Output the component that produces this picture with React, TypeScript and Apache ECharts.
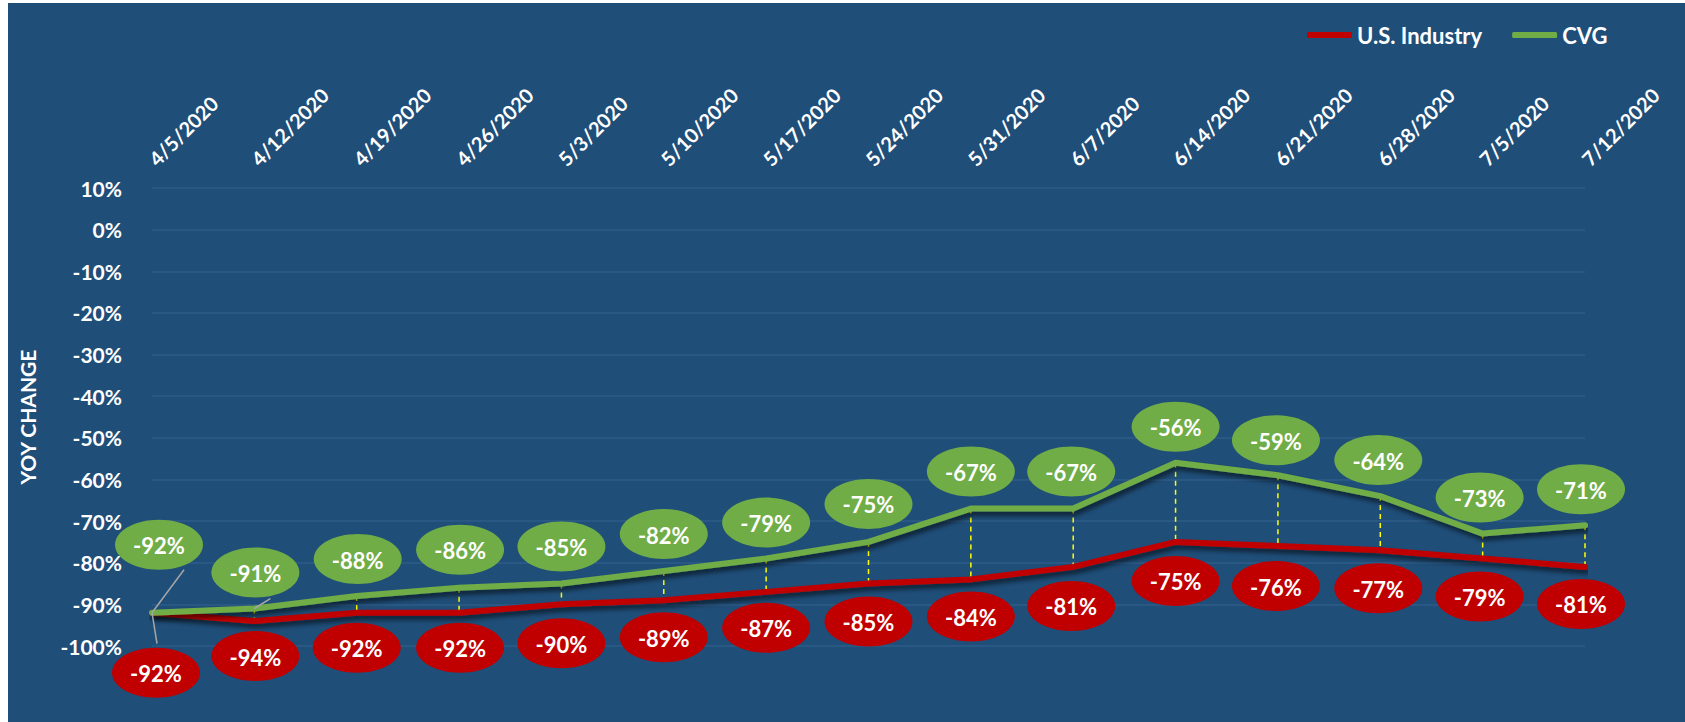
import React, { useEffect, useRef } from "react";
import * as echarts from "echarts";

const categories = [
  "4/5/2020", "4/12/2020", "4/19/2020", "4/26/2020", "5/3/2020", "5/10/2020", "5/17/2020",
  "5/24/2020", "5/31/2020", "6/7/2020", "6/14/2020", "6/21/2020", "6/28/2020", "7/5/2020", "7/12/2020",
];
const usIndustry = [-92, -94, -92, -92, -90, -89, -87, -85, -84, -81, -75, -76, -77, -79, -81];
const cvg = [-92, -91, -88, -86, -85, -82, -79, -75, -67, -67, -56, -59, -64, -73, -71];

const yTicks = { min: -100, max: 10, interval: 10 };

// label placement (pixel offsets of the ellipse centre from its point)
const cvgLabelOffsets = [[7, -68], [1, -36], [1, -37], [1, -38], [0, -37], [0, -37], [0, -36], [0, -38], [0, -37], [-2, -37], [0, -36], [-2, -35], [-2, -36], [-3, -36], [-4, -36]];
const usLabelOffsets = [[4, 60], [1, 35], [0, 35], [1, 35], [0, 39], [0, 37], [0, 36], [0, 38], [0, 37], [-2, 39], [0, 39], [-2, 40], [-2, 38], [-3, 38], [-4, 37]];
// leader lines: index -> end offset from the point
const cvgLeaders: Record<number, number[]> = { 0: [32, -43], 1: [16, -10] };
const usLeaders: Record<number, number[]> = { 0: [5, 31] };

const GREEN = "#70AD47";
const RED = "#C00000";
const BG = "#1F4E79";
const FONT = 'Lato, "Open Sans", sans-serif';

function labelSeries(name: string, values: number[], offsets: number[][], leaders: Record<number, number[]>, color: string) {
  return {
    type: "custom",
    name,
    z: 5,
    clip: false,
    silent: true,
    data: values.map((v, i) => [i, v]),
    encode: { x: 0, y: 1 },
    renderItem: (params: any, api: any) => {
      const i = params.dataIndex;
      const v = api.value(1);
      const p = api.coord([api.value(0), v]);
      const off = offsets[i];
      const cx = p[0] + off[0];
      const cy = p[1] + off[1];
      const children: any[] = [];
      const ld = leaders[i];
      if (ld) {
        children.push({
          type: "line",
          shape: { x1: p[0], y1: p[1], x2: p[0] + ld[0], y2: p[1] + ld[1] },
          style: { stroke: "#A6A6A6", lineWidth: 1.5 },
        });
      }
      children.push({
        type: "ellipse",
        shape: { cx, cy, rx: 44, ry: 25 },
        style: { fill: color },
      });
      children.push({
        type: "text",
        style: {
          x: cx,
          y: cy + 1,
          text: `${v}%`,
          fill: "#FFFFFF",
          font: `bold 22px ${FONT}`,
          align: "center",
          verticalAlign: "middle",
        },
      });
      return { type: "group", children };
    },
  };
}

export default function App() {
  const ref = useRef<HTMLDivElement>(null);
  useEffect(() => {
    if (!ref.current) return;
    const chart = echarts.init(ref.current, undefined, { renderer: "svg" });
    const lineShadow = {
      shadowColor: "rgba(0,0,0,0.6)",
      shadowBlur: 5,
      shadowOffsetX: 2,
      shadowOffsetY: 4,
    };
    chart.setOption({
      animation: false,
      backgroundColor: BG,
      textStyle: { fontFamily: FONT },
      legend: {
        data: [
          { name: "U.S. Industry", icon: "roundRect" },
          { name: "CVG", icon: "roundRect" },
        ],
        left: 1294,
        top: 16,
        itemWidth: 45,
        itemHeight: 6,
        itemGap: 30,
        textStyle: { color: "#FFFFFF", fontWeight: "bold", fontSize: 22, fontFamily: FONT },
      },
      grid: { left: 144, right: 100, top: 185, bottom: 76 },
      xAxis: {
        type: "category",
        position: "top",
        data: categories,
        boundaryGap: false,
        axisLine: { show: false },
        axisTick: { show: false },
        axisLabel: {
          rotate: 45,
          margin: 26,
          color: "#FFFFFF",
          fontWeight: "bold",
          fontSize: 20,
          fontFamily: FONT,
          interval: 0,
        },
        splitLine: { show: false },
      },
      yAxis: {
        type: "value",
        min: yTicks.min,
        max: yTicks.max,
        interval: yTicks.interval,
        name: "YOY CHANGE",
        nameLocation: "middle",
        nameGap: 114,
        nameRotate: 90,
        nameTextStyle: { color: "#FFFFFF", fontWeight: "bold", fontSize: 21, fontFamily: FONT },
        axisLine: { show: false },
        axisTick: { show: false },
        axisLabel: {
          formatter: "{value}%",
          color: "#FFFFFF",
          fontWeight: "bold",
          fontSize: 21,
          fontFamily: FONT,
          margin: 30,
        },
        splitLine: { lineStyle: { color: "#2F5C88", width: 1.5 } },
      },
      series: [
        {
          type: "custom",
          name: "highLow",
          z: 1,
          silent: true,
          data: cvg.map((v, i) => [i, v, usIndustry[i]]),
          encode: { x: 0, y: [1, 2] },
          renderItem: (params: any, api: any) => {
            const a = api.coord([api.value(0), api.value(1)]);
            const b = api.coord([api.value(0), api.value(2)]);
            if (api.value(1) === api.value(2)) return null;
            return {
              type: "line",
              shape: { x1: a[0], y1: a[1], x2: b[0], y2: b[1] },
              style: { stroke: "#FFFF00", lineWidth: 1.5, lineDash: [5, 4] },
            };
          },
        },
        {
          type: "line",
          name: "U.S. Industry",
          data: usIndustry,
          z: 3,
          symbol: "none",
          color: RED,
          lineStyle: { color: RED, width: 6, cap: "round", join: "round", ...lineShadow },
        },
        {
          type: "line",
          name: "CVG",
          data: cvg,
          z: 3,
          symbol: "none",
          color: GREEN,
          lineStyle: { color: GREEN, width: 6, cap: "round", join: "round", ...lineShadow },
        },
        labelSeries("cvgLabels", cvg, cvgLabelOffsets, cvgLeaders, GREEN),
        labelSeries("usLabels", usIndustry, usLabelOffsets, usLeaders, RED),
      ],
    });
    return () => chart.dispose();
  }, []);
  return (
    <div
      ref={ref}
      style={{ position: "fixed", left: 8, top: 3, width: 1677, height: 719 }}
    />
  );
}
